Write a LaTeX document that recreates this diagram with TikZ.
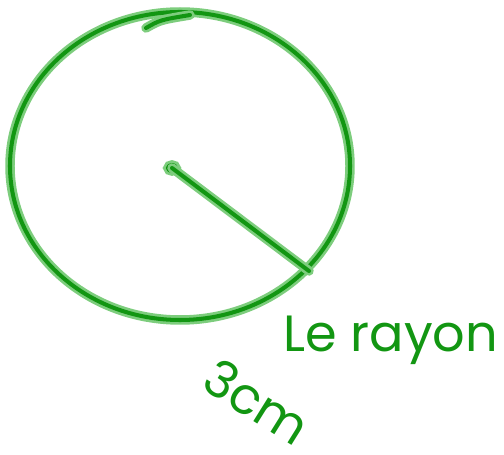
\documentclass[tikz,border=0pt]{standalone}
\usepackage{fontspec}
\setsansfont{Poppins}
\begin{document}
\begin{tikzpicture}[x=0.02cm, y=-0.02cm]
  \definecolor{vert}{RGB}{18,150,18}
  \definecolor{halo}{RGB}{125,205,125}
  \tikzset{trait/.style={draw=vert, line width=2.3pt, line cap=round, line join=round,
                         preaction={draw=halo, line width=5.4pt, line cap=round}},
           texte/.style={text=vert, font=\sffamily\fontsize{29}{34}\selectfont, inner sep=0pt}}
  \useasboundingbox (0,0) rectangle (504,455);

  % Le cercle
  \coordinate (milieu) at (180,166);
  \draw[trait] (milieu) ellipse [x radius=170, y radius=154];
  \draw[trait] (146,28) .. controls (160,20) .. (190,15);

  % Le centre et le rayon
  \coordinate (centre) at (172,168);
  \coordinate (bout) at (309,271);
  \draw[trait] (centre) ellipse [x radius=4, y radius=3];
  \draw[trait] (centre) -- (bout);

  % Les textes
  \node[texte, anchor=base west] (rayon) at (283,352) {Le rayon};
  \node[texte, rotate=-32] (mesure) at (257,402) {3cm};
\end{tikzpicture}
\end{document}
